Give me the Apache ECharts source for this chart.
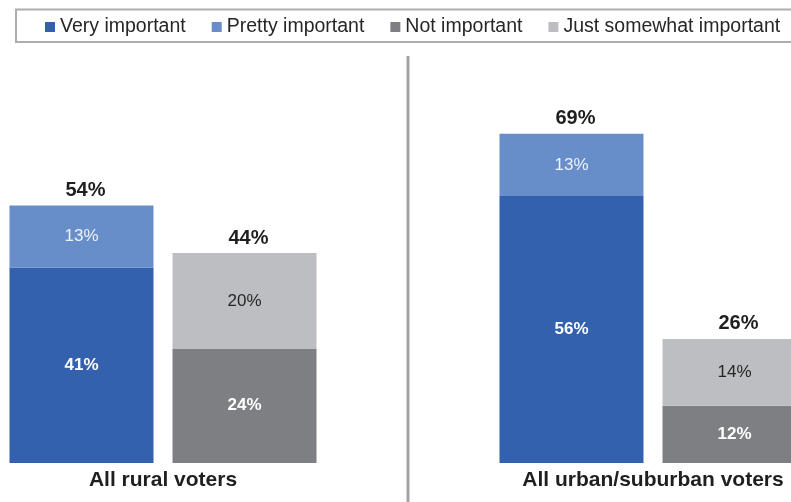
<!DOCTYPE html>
<html>
<head>
<meta charset="utf-8">
<script src="https://cdn.jsdelivr.net/npm/echarts@6/dist/echarts.min.js"></script>
<style>
html,body{margin:0;padding:0;background:#fff;}
#chart{width:791px;height:502px;}
</style>
</head>
<body>
<div id="chart"></div>
<script>
const categories = ['All rural voters', 'All urban/suburban voters'];
const seriesNames = ['Very important', 'Pretty important', 'Not important', 'Just somewhat important'];
const veryImportant = [41, 56];
const prettyImportant = [13, 13];
const notImportant = [24, 12];
const justSomewhat = [20, 14];
const totalImportant = [54, 69];
const totalNotImportant = [44, 26];

const FONT = '"Liberation Sans", Arial, sans-serif';
const colors = ['#3361AD', '#678EC9', '#7E7F83', '#BDBEC2'];

function segLabel(color, bold) {
  return {
    show: true,
    position: 'inside',
    formatter: p => p.value + '%',
    color: color,
    fontSize: 17,
    fontWeight: bold ? 'bold' : 'normal',
    fontFamily: FONT
  };
}
function totalLabel(arr) {
  return {
    show: true,
    position: 'top',
    distance: 5,
    offset: [4, 0],
    formatter: p => arr[p.dataIndex] + '%',
    color: '#1f1f1f',
    fontSize: 20,
    fontWeight: 'bold',
    fontFamily: FONT
  };
}

const chart = echarts.init(document.getElementById('chart'), null, {renderer: 'canvas'});
chart.setOption({
  animation: false,
  backgroundColor: '#ffffff',
  textStyle: {fontFamily: FONT},
  legend: {
    data: seriesNames,
    left: 40,
    top: 12,
    icon: 'rect',
    itemWidth: 10,
    itemHeight: 10,
    itemGap: 26,
    textStyle: {fontSize: 19.5, color: '#262626', fontFamily: FONT}
  },
  graphic: [
    {type: 'rect', shape: {x: 16, y: 9.5, width: 800, height: 32.5},
     style: {fill: 'none', stroke: '#ADADAD', lineWidth: 2}, z: -1},
    {type: 'line', shape: {x1: 408, y1: 56, x2: 408, y2: 502},
     style: {stroke: '#A3A3A3', lineWidth: 3}}
  ],
  grid: {left: 163, right: 138, top: 81.4, bottom: 39, containLabel: false},
  xAxis: {
    type: 'category',
    data: categories,
    boundaryGap: false,
    axisLine: {show: false},
    axisTick: {show: false},
    axisLabel: {interval: 0, margin: 7, fontSize: 21, fontWeight: 'bold', color: '#1f1f1f', fontFamily: FONT}
  },
  yAxis: {
    type: 'value', min: 0, max: 80, show: false,
    splitLine: {show: false}
  },
  series: [
    {name: seriesNames[0], type: 'bar', stack: 'imp', data: veryImportant, barWidth: 144, barGap: '13.2%', clip: false,
     itemStyle: {color: colors[0]}, label: segLabel('#ffffff', true)},
    {name: seriesNames[1], type: 'bar', stack: 'imp', data: prettyImportant, clip: false,
     itemStyle: {color: colors[1]}, label: segLabel('#EEF2F9', false)},
    {name: seriesNames[2], type: 'bar', stack: 'not', data: notImportant, barWidth: 144, clip: false,
     itemStyle: {color: colors[2]}, label: segLabel('#ffffff', true)},
    {name: seriesNames[3], type: 'bar', stack: 'not', data: justSomewhat, clip: false,
     itemStyle: {color: colors[3]}, label: segLabel('#262626', false)},
    {name: 'totalImp', type: 'bar', stack: 'imp', data: totalImportant.map(() => 0), clip: false,
     itemStyle: {color: 'transparent'}, label: totalLabel(totalImportant), tooltip: {show: false}},
    {name: 'totalNot', type: 'bar', stack: 'not', data: totalNotImportant.map(() => 0), clip: false,
     itemStyle: {color: 'transparent'}, label: totalLabel(totalNotImportant), tooltip: {show: false}}
  ]
});
</script>
</body>
</html>
